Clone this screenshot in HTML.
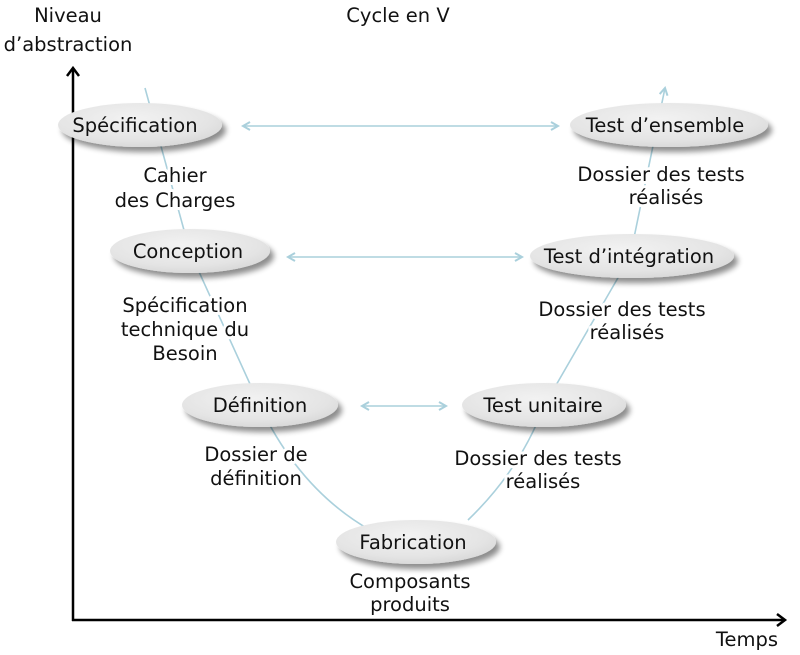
<!DOCTYPE html>
<html><head><meta charset="utf-8"><style>
html,body{margin:0;padding:0;background:#fff;}
svg{display:block;}
text{font-family:"DejaVu Sans","Liberation Sans",sans-serif;font-size:19.5px;fill:#111;}
.h{stroke:#fff;stroke-width:6px;paint-order:stroke;stroke-linejoin:round;}
</style></head><body>
<svg width="800" height="655" viewBox="0 0 800 655" xmlns="http://www.w3.org/2000/svg">
<defs>
<radialGradient id="g" cx="0.45" cy="0.35" r="0.7">
<stop offset="0" stop-color="#f2f2f2"/><stop offset="0.7" stop-color="#e4e4e4"/><stop offset="1" stop-color="#d6d6d6"/>
</radialGradient>
<filter id="s" x="-20%" y="-40%" width="140%" height="190%">
<feGaussianBlur in="SourceAlpha" stdDeviation="3"/><feOffset dx="4" dy="5"/>
<feComponentTransfer><feFuncA type="linear" slope="0.45"/></feComponentTransfer>
<feMerge><feMergeNode/><feMergeNode in="SourceGraphic"/></feMerge>
</filter>
<marker id="a" markerWidth="10" markerHeight="10" refX="8" refY="5" orient="auto-start-reverse" markerUnits="userSpaceOnUse">
<path d="M1,1 L8,5 L1,9" fill="none" stroke="#aad0dc" stroke-width="2"/>
</marker>
</defs>
<g stroke="#aad0dc" stroke-width="1.6" fill="none">
<path d="M145,88 L190,252 L260,406 Q300,490 370,530"/>
<path d="M468,520 Q520,470 544,406 L630,257 L665,88" marker-end="url(#a)"/>
<line x1="243" y1="126" x2="558" y2="126" marker-start="url(#a)" marker-end="url(#a)"/>
<line x1="288" y1="257" x2="522" y2="257" marker-start="url(#a)" marker-end="url(#a)"/>
<line x1="362" y1="406" x2="446" y2="406" marker-start="url(#a)" marker-end="url(#a)"/>
</g>
<g stroke="#000" stroke-width="2.5" fill="none">
<line x1="73" y1="70" x2="73" y2="621"/>
<line x1="72" y1="620" x2="784" y2="620"/>
<path d="M67,76 L73,68 L79,76"/>
<path d="M777,614 L785,620 L777,626"/>
</g>
<g fill="url(#g)" filter="url(#s)">
<ellipse cx="140" cy="125" rx="82" ry="22"/>
<ellipse cx="190" cy="251" rx="80" ry="22"/>
<ellipse cx="260" cy="405" rx="78" ry="22"/>
<ellipse cx="416" cy="542" rx="80" ry="22"/>
<ellipse cx="544" cy="405" rx="82" ry="22"/>
<ellipse cx="632" cy="256" rx="102" ry="22"/>
<ellipse cx="669" cy="125" rx="99" ry="22"/>
</g>
<g text-anchor="middle">
<text x="135" y="132">Spécification</text>
<text x="188" y="258">Conception</text>
<text x="260" y="412">Définition</text>
<text x="413" y="549">Fabrication</text>
<text x="543" y="412">Test unitaire</text>
<text x="629" y="263">Test d’intégration</text>
<text x="665" y="132">Test d’ensemble</text>
<text x="398" y="22">Cycle en V</text>
<text x="68" y="22">Niveau</text>
<text x="68" y="51">d’abstraction</text>
<text x="747" y="646">Temps</text>
<text class="h" x="175" y="182">Cahier</text>
<text class="h" x="175" y="207">des Charges</text>
<text class="h" x="185" y="312">Spécification</text>
<text class="h" x="185" y="336">technique du</text>
<text class="h" x="185" y="360">Besoin</text>
<text class="h" x="256" y="461">Dossier de</text>
<text class="h" x="256" y="485">définition</text>
<text class="h" x="410" y="588">Composants</text>
<text class="h" x="410" y="611">produits</text>
<text class="h" x="538" y="465">Dossier des tests</text>
<text class="h" x="543" y="488">réalisés</text>
<text class="h" x="622" y="316">Dossier des tests</text>
<text class="h" x="627" y="339">réalisés</text>
<text class="h" x="661" y="181">Dossier des tests</text>
<text class="h" x="666" y="204">réalisés</text>
</g>
</svg>
</body></html>
